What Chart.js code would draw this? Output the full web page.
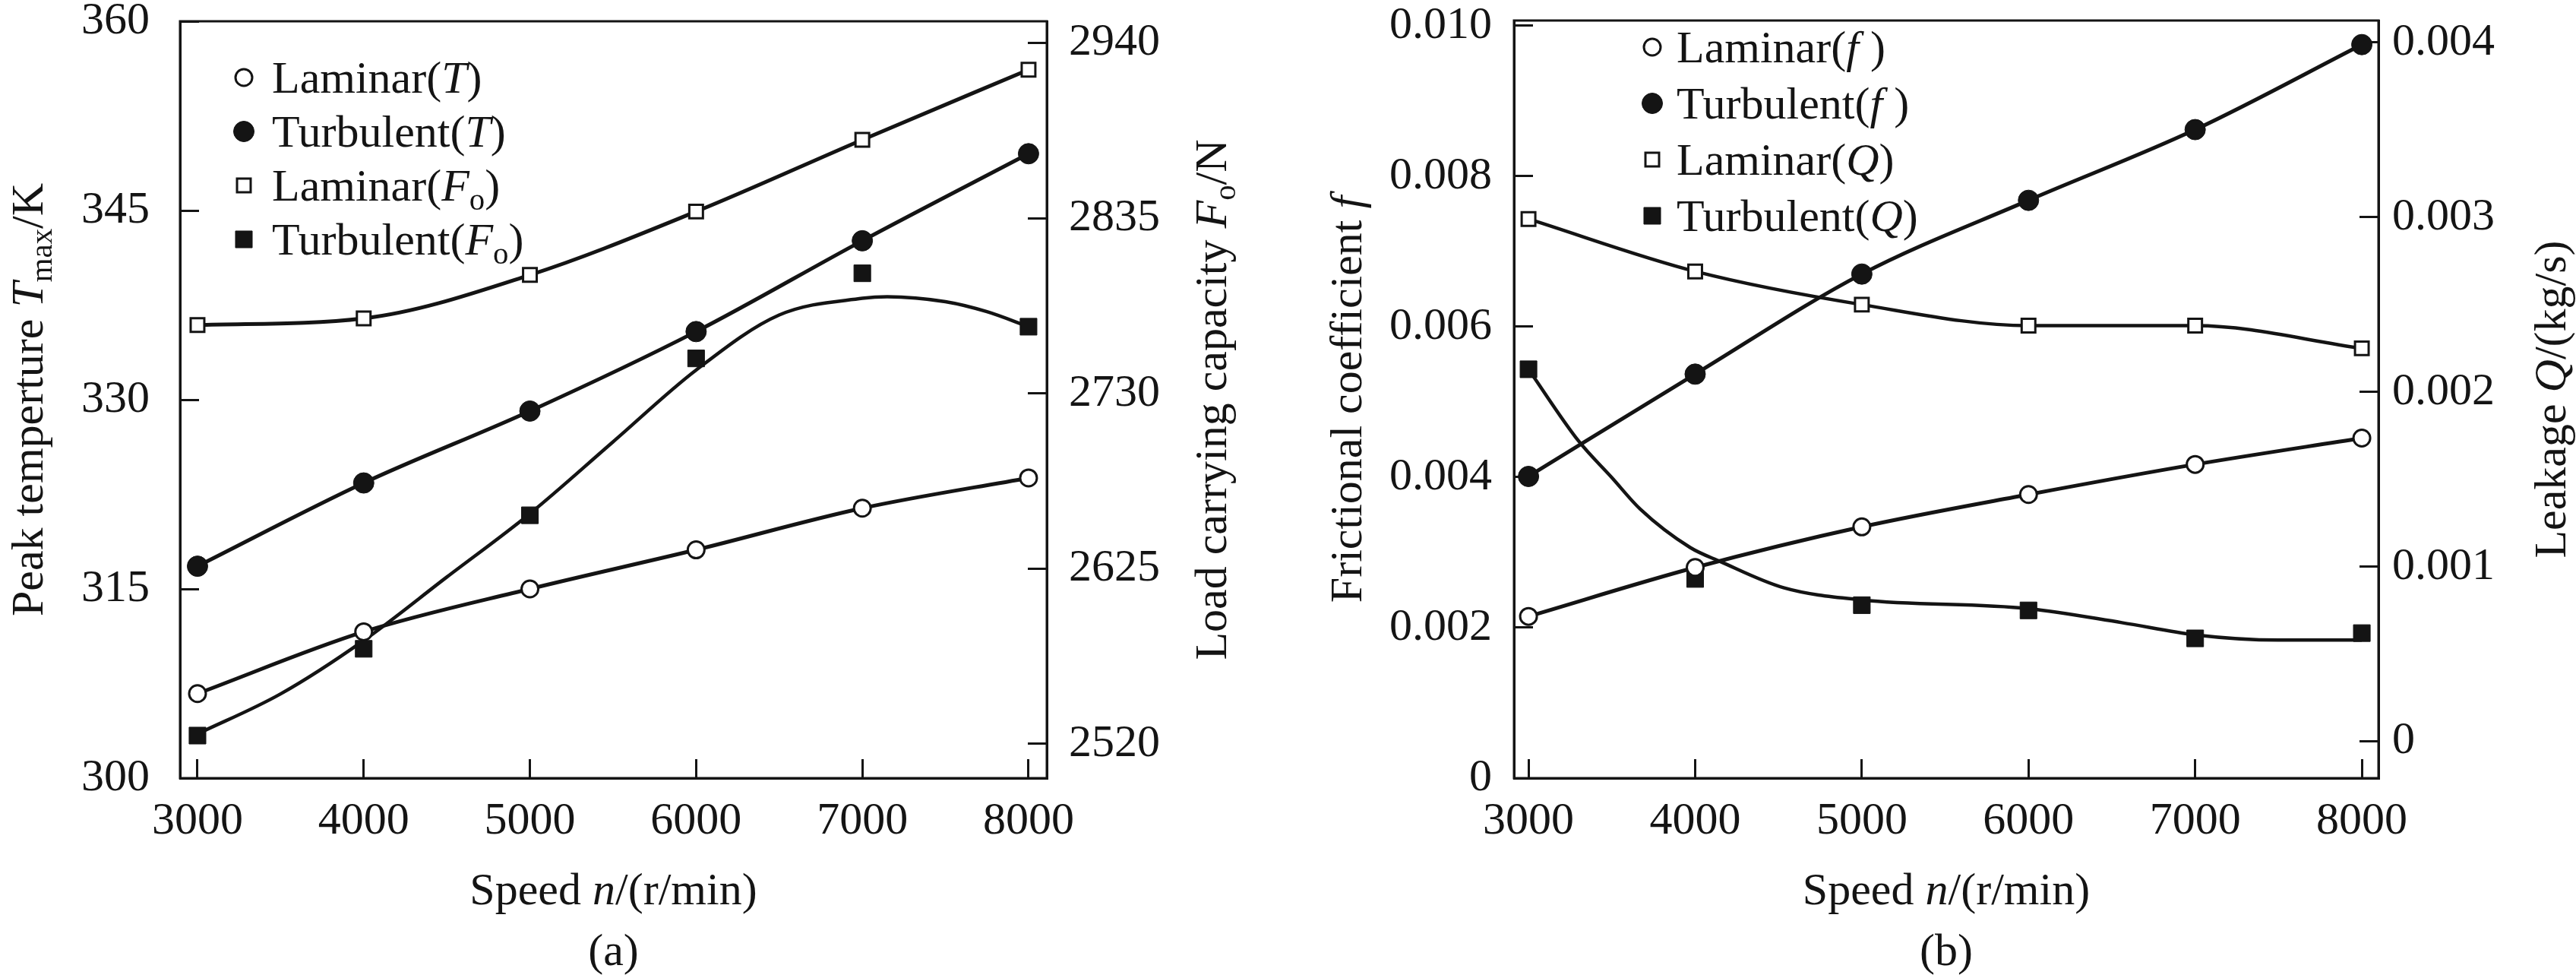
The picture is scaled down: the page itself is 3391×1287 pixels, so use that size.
<!DOCTYPE html>
<html lang="en">
<head>
<meta charset="UTF-8">
<title>Speed effects: laminar vs turbulent</title>
<script src="https://cdn.jsdelivr.net/npm/chart.js"></script>
<style>
  html, body { margin: 0; padding: 0; background: #fff; }
  #wrap { position: relative; width: 3391px; height: 1287px; }
  canvas { position: absolute; top: 0; }
  #chart-a { left: 0; width: 1695px; height: 1287px; }
  #chart-b { left: 1695px; width: 1696px; height: 1287px; }
</style>
</head>
<body>
<div id="wrap">
  <canvas id="chart-a" width="1695" height="1287"></canvas>
  <canvas id="chart-b" width="1696" height="1287"></canvas>
</div>

<script>
// ---- shared x axis ----
const speeds = [3000, 4000, 5000, 6000, 7000, 8000];
const speedTicks = [3000, 4000, 5000, 6000, 7000, 8000];
const speedTickLabels = ['3000', '4000', '5000', '6000', '7000', '8000'];

// ---- panel (a): peak temperature and load capacity ----
const tempLaminar = [306.7, 311.6, 315.0, 318.1, 321.4, 323.8];
const tempTurbulent = [316.8, 323.4, 329.1, 335.4, 342.6, 349.5];
const loadLaminar = [2771, 2775, 2801, 2839, 2882, 2924];
const loadTurbulent = [2525, 2577, 2657, 2751, 2802, 2770];
// fitted curve through the turbulent load points
const loadTurbFitSpeeds = [3000, 3500, 4000, 4500, 5000, 5500, 6000, 6500, 7000, 7150, 7500, 7750, 8000];
const loadTurbFit = [2526, 2550, 2582, 2620, 2658, 2701, 2744, 2777, 2787, 2788, 2785, 2779, 2770];

const tempTicks = [300, 315, 330, 345, 360];
const tempTickLabels = ['300', '315', '330', '345', '360'];
const loadTicks = [2520, 2625, 2730, 2835, 2940];
const loadTickLabels = ['2520', '2625', '2730', '2835', '2940'];

// ---- panel (b): friction coefficient and leakage ----
const fricLaminar = [0.00215, 0.00280, 0.00334, 0.00377, 0.00417, 0.00452];
const fricTurbulent = [0.00401, 0.00537, 0.00670, 0.00768, 0.00862, 0.00975];
const leakLaminar = [0.00299, 0.00269, 0.00250, 0.00238, 0.00238, 0.00225];
const leakTurbulent = [0.00213, 0.00093, 0.00078, 0.00075, 0.00059, 0.00062];
// fitted curve through the turbulent leakage points
const leakTurbFitSpeeds = [3000, 3300, 3500, 3670, 3970, 4150, 4530, 5000, 6000, 6560, 7000, 7500, 8000];
const leakTurbFit = [0.00213, 0.00172, 0.00151, 0.00133, 0.00111, 0.00103, 0.00088, 0.00081, 0.00076, 0.00068, 0.00061, 0.00058, 0.00058];

const fricTicks = [0, 0.002, 0.004, 0.006, 0.008, 0.010];
const fricTickLabels = ['0', '0.002', '0.004', '0.006', '0.008', '0.010'];
const leakTicks = [0, 0.001, 0.002, 0.003, 0.004];
const leakTickLabels = ['0', '0.001', '0.002', '0.003', '0.004'];

// ---- styling ----
const INK = '#141414';
const SERIF = '"Liberation Serif", "Times New Roman", serif';
const FS = 60;

const openCircle = { pointStyle: 'circle', pointRadius: 11, pointBorderWidth: 3, pointBackgroundColor: '#fff', pointBorderColor: INK };
const fullCircle = { pointStyle: 'circle', pointRadius: 13.5, pointBorderWidth: 1, pointBackgroundColor: INK, pointBorderColor: INK };
const openSquare = { pointStyle: 'rect', pointRadius: 12.7, pointBorderWidth: 3, pointBackgroundColor: '#fff', pointBorderColor: INK };
const fullSquare = { pointStyle: 'rect', pointRadius: 15.6, pointBorderWidth: 1, pointBackgroundColor: INK, pointBorderColor: INK };

Chart.defaults.font.family = SERIF;
Chart.defaults.color = INK;

function series(label, xs, ys, axis, marker, extra) {
    return Object.assign({
        label: label,
        data: xs.map((x, i) => ({ x: x, y: ys[i] })),
        yAxisID: axis,
        borderColor: INK,
        borderWidth: 5,
        showLine: true,
        cubicInterpolationMode: 'monotone'
    }, marker, extra || {});
}

// inward tick marks, no grid on the plot
const tickGrid = () => ({
    display: true, drawOnChartArea: false, drawTicks: true,
    tickLength: -25, tickWidth: 3, tickColor: INK, color: INK, lineWidth: 3
});

function xScale(min, max) {
    return {
        type: 'linear', position: 'bottom', min: min, max: max,
        afterBuildTicks: s => { s.ticks = speedTicks.map(v => ({ value: v })); },
        afterFit: s => { s.height = 263; s.paddingLeft = 0; s.paddingRight = 0; },
        ticks: {
            autoSkip: false, maxRotation: 0, padding: 46, color: INK,
            font: { family: SERIF, size: FS },
            callback: (v, i) => speedTickLabels[i]
        },
        grid: tickGrid(),
        border: { display: true, color: INK, width: 3 }
    };
}

function yScale(position, min, max, ticks, labels, width, gap) {
    return {
        type: 'linear', position: position, min: min, max: max,
        afterBuildTicks: s => { s.ticks = ticks.map(v => ({ value: v })); },
        afterFit: s => { s.width = width; s.paddingTop = 0; s.paddingBottom = 0; },
        ticks: {
            autoSkip: false, padding: gap + 25, color: INK,
            font: { family: SERIF, size: FS },
            callback: (v, i) => labels[i]
        },
        grid: tickGrid(),
        border: { display: true, color: INK, width: 3 }
    };
}

// text with italic / subscript runs: [text, 'i' | 's' | '']
function drawRich(ctx, segs, x, y, rot, align) {
    ctx.save();
    ctx.translate(x, y);
    if (rot) ctx.rotate(rot);
    const parts = segs.map(s => {
        const style = s[1] || '';
        const size = style.includes('s') ? FS * 0.68 : FS;
        const font = (style.includes('i') ? 'italic ' : '') + size + 'px ' + SERIF;
        ctx.font = font;
        return { t: s[0], font: font, w: ctx.measureText(s[0]).width, dy: style.includes('s') ? FS * 0.2 : 0 };
    });
    const total = parts.reduce((a, p) => a + p.w, 0);
    let cx = align === 'left' ? 0 : -total / 2;
    ctx.fillStyle = INK;
    ctx.textAlign = 'left';
    ctx.textBaseline = 'alphabetic';
    parts.forEach(p => {
        ctx.font = p.font;
        ctx.fillText(p.t, cx, FS * 0.34 + p.dy);
        cx += p.w;
    });
    ctx.restore();
}

function drawMarker(ctx, m, x, y) {
    ctx.save();
    ctx.beginPath();
    if (m.pointStyle === 'rect') {
        const h = m.pointRadius * Math.SQRT1_2;
        ctx.rect(x - h, y - h, 2 * h, 2 * h);
    } else {
        ctx.arc(x, y, m.pointRadius, 0, Math.PI * 2);
    }
    ctx.fillStyle = m.pointBackgroundColor;
    ctx.fill();
    ctx.lineWidth = m.pointBorderWidth;
    ctx.strokeStyle = m.pointBorderColor;
    ctx.stroke();
    ctx.restore();
}

// frame, axis titles, panel label and legend
function decor(cfg) {
    return {
        id: 'decor',
        afterDraw(chart) {
            const ctx = chart.ctx;
            const a = chart.chartArea;
            ctx.save();
            ctx.strokeStyle = INK;
            ctx.lineWidth = 3;
            ctx.strokeRect(a.left, a.top, a.right - a.left, a.bottom - a.top);
            ctx.restore();
            const midX = (a.left + a.right) / 2;
            const midY = (a.top + a.bottom) / 2;
            drawRich(ctx, cfg.leftTitle, cfg.leftTitleX, midY, -Math.PI / 2);
            drawRich(ctx, cfg.rightTitle, cfg.rightTitleX, midY, -Math.PI / 2);
            drawRich(ctx, [['Speed '], ['n', 'i'], ['/(r/min)']], midX, 1170, 0);
            drawRich(ctx, [[cfg.panel]], midX, 1250, 0);
            cfg.legend.forEach((row, i) => {
                const y = cfg.legendTop + i * cfg.legendStep;
                drawMarker(ctx, row.marker, a.left + cfg.markerDx, y);
                drawRich(ctx, row.text, a.left + cfg.textDx, y, 0, 'left');
            });
        }
    };
}

const baseOptions = (top) => ({
    responsive: false,
    animation: false,
    devicePixelRatio: 1,
    events: [],
    layout: { padding: { top: top, left: 0, right: 0, bottom: 0 } },
    plugins: { legend: { display: false }, tooltip: { enabled: false } }
});

// ---- panel (a) ----
new Chart(document.getElementById('chart-a').getContext('2d'), {
    type: 'line',
    data: {
        datasets: [
            series('Laminar(T)', speeds, tempLaminar, 'yT', openCircle),
            series('Turbulent(T)', speeds, tempTurbulent, 'yT', fullCircle),
            series('Laminar(Fo)', speeds, loadLaminar, 'yF', openSquare),
            series('Turbulent(Fo)', speeds, loadTurbulent, 'yF', fullSquare, { showLine: false }),
            series('Turbulent(Fo) fit', loadTurbFitSpeeds, loadTurbFit, 'yF', { pointRadius: 0 }, { borderWidth: 4.5 })
        ]
    },
    options: Object.assign(baseOptions(28), {
        scales: {
            x: xScale(2895, 8110),
            yT: yScale('left', 300, 360, tempTicks, tempTickLabels, 237, 40),
            yF: yScale('right', 2499.5, 2953, loadTicks, loadTickLabels, 317, 29)
        }
    }),
    plugins: [decor({
        leftTitle: [['Peak temperture '], ['T', 'i'], ['max', 's'], ['/K']],
        leftTitleX: 36,
        rightTitle: [['Load carrying capacity '], ['F', 'i'], ['o', 's'], ['/N']],
        rightTitleX: 1594,
        panel: '(a)',
        legendTop: 102, legendStep: 71, markerDx: 84, textDx: 121,
        legend: [
            { marker: openCircle, text: [['Laminar('], ['T', 'i'], [')']] },
            { marker: fullCircle, text: [['Turbulent('], ['T', 'i'], [')']] },
            { marker: openSquare, text: [['Laminar('], ['F', 'i'], ['o', 's'], [')']] },
            { marker: fullSquare, text: [['Turbulent('], ['F', 'i'], ['o', 's'], [')']] }
        ]
    })]
});

// ---- panel (b) ----
new Chart(document.getElementById('chart-b').getContext('2d'), {
    type: 'line',
    data: {
        datasets: [
            series('Laminar(f)', speeds, fricLaminar, 'yf', openCircle),
            series('Turbulent(f)', speeds, fricTurbulent, 'yf', fullCircle),
            series('Laminar(Q)', speeds, leakLaminar, 'yQ', openSquare, { borderWidth: 4.5 }),
            series('Turbulent(Q)', speeds, leakTurbulent, 'yQ', fullSquare, { showLine: false }),
            series('Turbulent(Q) fit', leakTurbFitSpeeds, leakTurbFit, 'yQ', { pointRadius: 0 }, { borderWidth: 4.5 })
        ]
    },
    options: Object.assign(baseOptions(27), {
        scales: {
            x: xScale(2913, 8100),
            yf: yScale('left', 0, 0.01007, fricTicks, fricTickLabels, 298, 29),
            yQ: yScale('right', -0.00021, 0.004126, leakTicks, leakTickLabels, 260, 18)
        }
    }),
    plugins: [decor({
        leftTitle: [['Frictional coefficient '], ['f', 'i']],
        leftTitleX: 77,
        rightTitle: [['Leakage '], ['Q', 'i'], ['/(kg/s)']],
        rightTitleX: 1662,
        panel: '(b)',
        legendTop: 62, legendStep: 74, markerDx: 182, textDx: 214,
        legend: [
            { marker: openCircle, text: [['Laminar('], ['f', 'i'], [' )']] },
            { marker: fullCircle, text: [['Turbulent('], ['f', 'i'], [' )']] },
            { marker: openSquare, text: [['Laminar('], ['Q', 'i'], [')']] },
            { marker: fullSquare, text: [['Turbulent('], ['Q', 'i'], [')']] }
        ]
    })]
});
</script>
</body>
</html>
